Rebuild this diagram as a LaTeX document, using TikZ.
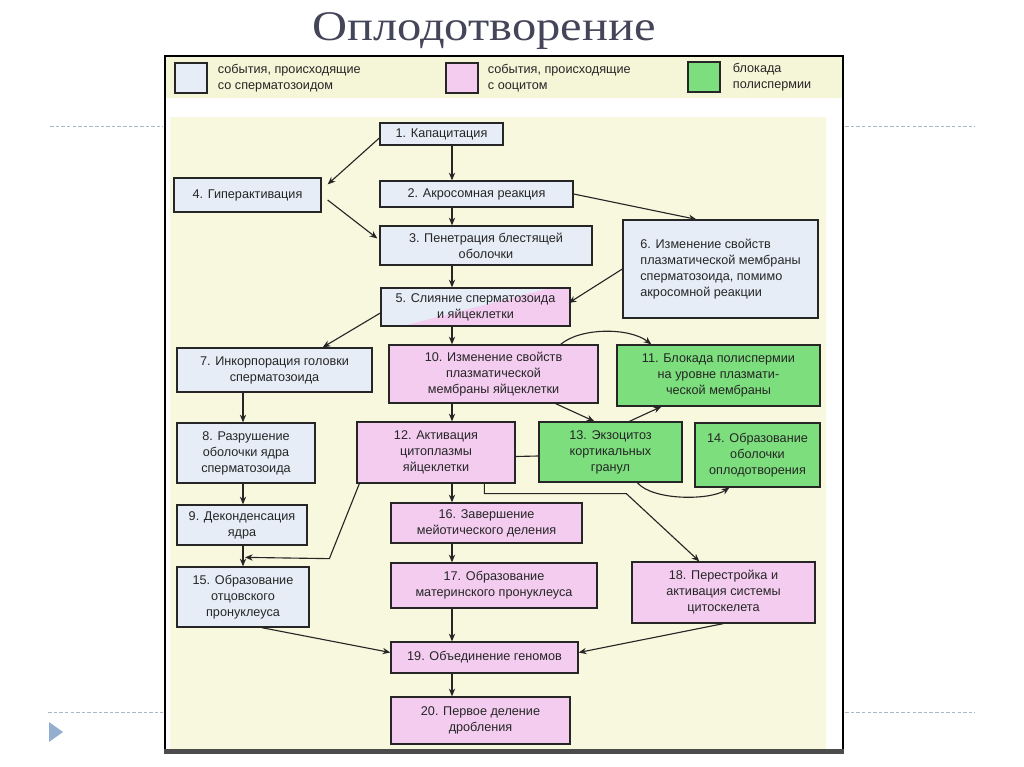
\documentclass[tikz,border=0pt]{standalone}
\usepackage{fontspec}
\setmainfont{Liberation Sans}
\newfontfamily\titlefont{Liberation Serif}
\usetikzlibrary{arrows.meta,calc}
\definecolor{spermcol}{HTML}{E6EDF7}
\definecolor{oocol}{HTML}{F3CCF0}
\definecolor{blockcol}{HTML}{7CDE7C}
\definecolor{bgcol}{HTML}{F8F8DE}
\definecolor{bandcol}{HTML}{F5F5D8}
\definecolor{guidecol}{HTML}{A8B8C8}
\definecolor{iconcol}{HTML}{93AECE}
\definecolor{titlecol}{HTML}{45455A}

\begin{document}
\begin{tikzpicture}[x=0.025cm,y=-0.025cm,
  box/.style={draw=black!85,line width=0.9pt,inner sep=2pt,align=center,text=black!85,font=\fontsize{9}{11.4}\selectfont},
  sperm/.style={box,fill=spermcol},
  ooc/.style={box,fill=oocol},
  block/.style={box,fill=blockcol},
  keybox/.style={draw=black!85,line width=1pt,minimum width=0.8cm,minimum height=0.75cm},
  keytext/.style={anchor=west,align=left,text=black!85,font=\fontsize{9}{11.4}\selectfont},
  arr/.style={-{Stealth[length=5.5pt,width=4.5pt]},line width=0.8pt,draw=black!85},
  link/.style={line width=0.8pt,draw=black!85},
  guide/.style={draw=guidecol,dash pattern=on 2.5pt off 1.5pt,line width=0.6pt}
]
\useasboundingbox (0,0) rectangle (1024,767);
\fill[white] (0,0) rectangle (1024,767);

% page decoration
\draw[guide] (50,126) -- (163,126);
\draw[guide] (845,126) -- (975,126);
\draw[guide] (48,712) -- (163,712);
\draw[guide] (845,712) -- (975,712);
\fill[iconcol] (49,722) -- (63,732) -- (49,742) -- cycle;
\node[font=\titlefont\fontsize{30}{36}\selectfont,text=titlecol,xscale=1.15] (title) at (484,31) {Оплодотворение};

% frame, legend band and field
\fill[bandcol] (166,57) rectangle (842,98);
\fill[bgcol] (170,117) rectangle (826,749);
\draw[line width=1.2pt] (165,56) rectangle (843,752);
\fill[black!70] (164,749) rectangle (844,754);

% legend
\node[keybox,fill=spermcol] (k1) at (191,78) {};
\node[keytext] (k1t) at (213,78) {события, происходящие\\со сперматозоидом};
\node[keybox,fill=oocol] (k2) at (462,78) {};
\node[keytext] (k2t) at (483,78) {события, происходящие\\с ооцитом};
\node[keybox,fill=blockcol] (k3) at (704,77) {};
\node[keytext] (k3t) at (728,77) {блокада\\полиспермии};

% boxes
\node[sperm,minimum width=3.075cm,minimum height=0.55cm] (b1) at (441.5,134) {1. Капацитация};
\node[sperm,minimum width=3.675cm,minimum height=0.85cm] (b4) at (247.5,195) {4. Гиперактивация};
\node[sperm,minimum width=4.825cm,minimum height=0.65cm] (b2) at (476.5,194) {2. Акросомная реакция};
\node[sperm,minimum width=5.3cm,minimum height=0.975cm] (b3) at (486,245.5) {3. Пенетрация блестящей\\оболочки};
\node[sperm,minimum width=4.875cm,minimum height=2.45cm,align=left] (b6) at (720.5,269) {6. Изменение свойств\\плазматической мембраны\\сперматозоида, помимо\\акросомной реакции};
\node[sperm,minimum width=4.725cm,minimum height=0.95cm,
  path picture={\fill[oocol] ($(path picture bounding box.south west)+(22,0)$) -- ($(path picture bounding box.north east)+(-20,0)$) -- (path picture bounding box.north east) -- (path picture bounding box.south east) -- cycle;}] (b5) at (475.5,307) {5. Слияние сперматозоида\\и яйцеклетки};
\node[sperm,minimum width=4.875cm,minimum height=1.1cm] (b7) at (274.5,370) {7. Инкорпорация головки\\сперматозоида};
\node[ooc,minimum width=5.225cm,minimum height=1.45cm] (b10) at (493.5,374) {10. Изменение свойств\\плазматической\\мембраны яйцеклетки};
\node[block,minimum width=5.075cm,minimum height=1.525cm] (b11) at (718.5,375.5) {11. Блокада полиспермии\\на уровне плазмати-\\ческой мембраны};
\node[sperm,minimum width=3.45cm,minimum height=1.5cm] (b8) at (246,453) {8. Разрушение\\оболочки ядра\\сперматозоида};
\node[ooc,minimum width=3.95cm,minimum height=1.525cm] (b12) at (436,452.5) {12. Активация\\цитоплазмы\\яйцеклетки};
\node[block,minimum width=3.575cm,minimum height=1.5cm] (b13) at (610.5,452) {13. Экзоцитоз\\кортикальных\\гранул};
\node[block,minimum width=3.125cm,minimum height=1.6cm] (b14) at (757.5,455) {14. Образование\\оболочки\\оплодотворения};
\node[sperm,minimum width=3.25cm,minimum height=1.0cm] (b9) at (242,525) {9. Деконденсация\\ядра};
\node[ooc,minimum width=4.775cm,minimum height=1.0cm] (b16) at (486.5,523) {16. Завершение\\мейотического деления};
\node[sperm,minimum width=3.3cm,minimum height=1.5cm] (b15) at (243,597) {15. Образование\\отцовского\\пронуклеуса};
\node[ooc,minimum width=5.15cm,minimum height=1.125cm] (b17) at (494,585.5) {17. Образование\\материнского пронуклеуса};
\node[ooc,minimum width=4.575cm,minimum height=1.525cm] (b18) at (723.5,592.5) {18. Перестройка и\\активация системы\\цитоскелета};
\node[ooc,minimum width=4.675cm,minimum height=0.775cm] (b19) at (484.5,657.5) {19. Объединение геномов};
\node[ooc,minimum width=4.475cm,minimum height=1.175cm] (b20) at (480.5,720.5) {20. Первое деление\\дробления};

% spine and left column
\coordinate (sp) at (452,0);
\coordinate (lc) at (243,0);
\foreach \a/\b in {b1/b2,b2/b3,b3/b5,b5/b10,b10/b12,b12/b16,b16/b17,b17/b19,b19/b20}
  \draw[arr] (\a.south -| sp) -- (\b.north -| sp);
\foreach \a/\b in {b7/b8,b8/b9,b9/b15}
  \draw[arr] (\a.south -| lc) -- (\b.north -| lc);

% other connectors
\draw[arr] ($(b1.west)+(0,4)$) -- ($(b4.north east)+(6,7)$);
\draw[arr] ($(b4.east)+(6,5)$) -- ($(b3.west)+(-2,-7)$);
\draw[arr] (b2.east) -- ($(b6.north west)+(74,0)$);
\draw[arr] (b6.west) -- ($(b5.east)+(-2,-4)$);
\draw[arr] ($(b5.west)+(0,6)$) -- ($(b7.north east)+(-50,0)$);
\draw[arr] ($(b10.north east)+(-38,0)$) .. controls +(20,-17) and +(-22,-17) .. ($(b11.north west)+(35,0)$);
\draw[arr] ($(b10.south east)+(-43,0)$) -- ($(b13.north west)+(56,0)$);
\draw[arr] ($(b13.north west)+(91,0)$) -- ($(b11.south west)+(45,0)$);
\draw[link] ($(b12.east)+(0,4)$) -- ($(b13.west)+(0,4)$);
\draw[arr] ($(b13.south west)+(99,0)$) .. controls +(15,18) and +(-20,13) .. ($(b14.south west)+(35,0)$);
\draw[arr] ($(b12.south west)+(128,0)$) -- ++(0,10) -- ++(142,0) -- ($(b18.north west)+(68,0)$);
\draw[arr] ($(b12.south west)+(3,0)$) -- ++(-30,75) -- ($(b15.north -| lc)+(2,-9)$);
\draw[arr] ($(b15.south east)+(-48,0)$) -- ($(b19.west)+(0,-5)$);
\draw[arr] ($(b18.south west)+(92,0)$) -- ($(b19.east)+(0,-5)$);
\end{tikzpicture}
\end{document}
